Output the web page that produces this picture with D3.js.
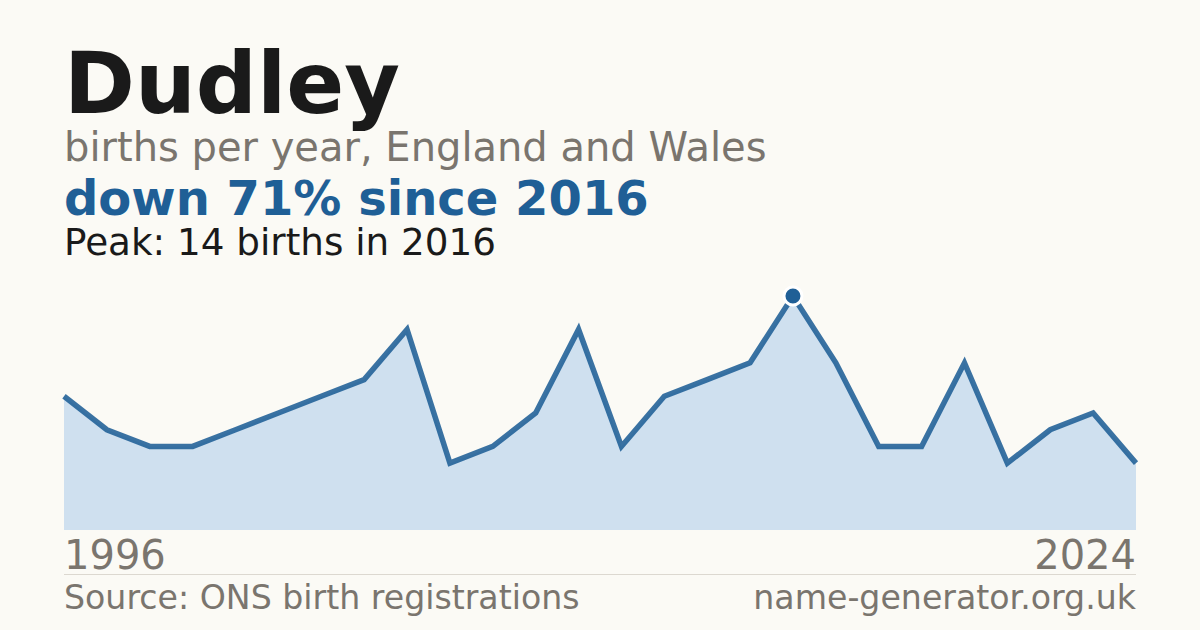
<!DOCTYPE html>
<html>
<head>
<meta charset="utf-8">
<script src="https://cdn.jsdelivr.net/npm/d3@7"></script>
<style>
  html, body { margin: 0; padding: 0; background: #fbfaf5; }
  svg { display: block; font-family: "DejaVu Sans", sans-serif; }
</style>
</head>
<body>
<script>
const w = 1200,
  h = 630,
  left = 64,
  right = 1136;

// years with a registration on record (some early years missing)
const years = [1996, 1997, 1998, 2000, 2001, 2002, 2003, 2005, 2006, 2007,
  2008, 2009, 2010, 2012, 2013, 2014, 2015, 2016, 2017, 2018, 2019, 2020,
  2021, 2022, 2023, 2024];
const births = [8, 6, 5, 5, 6, 7, 8, 9, 12, 4, 5, 7, 12, 5, 8, 9, 10, 14,
  10, 5, 5, 10, 4, 6, 7, 4];

const dataset = years.map((y, i) => ({ year: y, value: births[i] }));
const peak = dataset.reduce((a, b) => (b.value > a.value ? b : a));
const last = dataset[dataset.length - 1];
const change = Math.round((1 - last.value / peak.value) * 100);

const xScale = d3.scalePoint()
  .domain(years)
  .range([left, right]);

const yScale = d3.scaleLinear()
  .domain([0, peak.value])
  .range([530, 296]);

const svg = d3.select('body')
  .append('svg')
  .attr('width', w)
  .attr('height', h);

svg.append('rect')
  .attr('width', w)
  .attr('height', h)
  .attr('fill', '#fbfaf5');

// headings
svg.append('text')
  .attr('x', left)
  .attr('y', 113)
  .attr('font-size', 85.5)
  .attr('font-weight', 'bold')
  .attr('fill', '#1a1a1a')
  .text('Dudley');

svg.append('text')
  .attr('x', left)
  .attr('y', 161)
  .attr('font-size', 40)
  .attr('fill', '#7a756e')
  .text('births per year, England and Wales');

svg.append('text')
  .attr('x', left)
  .attr('y', 215)
  .attr('font-size', 48)
  .attr('font-weight', 'bold')
  .attr('fill', '#1f5f96')
  .text(`down ${change}% since ${peak.year}`);

svg.append('text')
  .attr('x', left)
  .attr('y', 255)
  .attr('font-size', 37.3)
  .attr('fill', '#1a1a1a')
  .text(`Peak: ${peak.value} births in ${peak.year}`);

// area + line
const area = d3.area()
  .x(d => xScale(d.year))
  .y0(yScale(0))
  .y1(d => yScale(d.value));

const line = d3.line()
  .x(d => xScale(d.year))
  .y(d => yScale(d.value));

svg.append('path')
  .datum(dataset)
  .attr('d', area)
  .attr('fill', '#cfe0ef');

svg.append('path')
  .datum(dataset)
  .attr('d', line)
  .attr('fill', 'none')
  .attr('stroke', '#1f5f96')
  .attr('stroke-opacity', 0.88)
  .attr('stroke-width', 5.5)
  .attr('stroke-linejoin', 'miter');

svg.append('circle')
  .attr('cx', xScale(peak.year))
  .attr('cy', yScale(peak.value))
  .attr('r', 9)
  .attr('fill', '#1f5f96')
  .attr('stroke', '#ffffff')
  .attr('stroke-width', 3);

// first / last year labels
svg.append('text')
  .attr('x', left)
  .attr('y', 569)
  .attr('font-size', 40)
  .attr('fill', '#7a756e')
  .text(years[0]);

svg.append('text')
  .attr('x', right)
  .attr('y', 569)
  .attr('font-size', 40)
  .attr('text-anchor', 'end')
  .attr('fill', '#7a756e')
  .text(years[years.length - 1]);

svg.append('line')
  .attr('x1', left)
  .attr('x2', right)
  .attr('y1', 574.5)
  .attr('y2', 574.5)
  .attr('stroke', '#dcd8d0')
  .attr('stroke-width', 1);

// footer
svg.append('text')
  .attr('x', left)
  .attr('y', 609)
  .attr('font-size', 33.2)
  .attr('fill', '#7a756e')
  .text('Source: ONS birth registrations');

svg.append('text')
  .attr('x', right)
  .attr('y', 609)
  .attr('font-size', 33.2)
  .attr('text-anchor', 'end')
  .attr('fill', '#7a756e')
  .text('name-generator.org.uk');
</script>
</body>
</html>
